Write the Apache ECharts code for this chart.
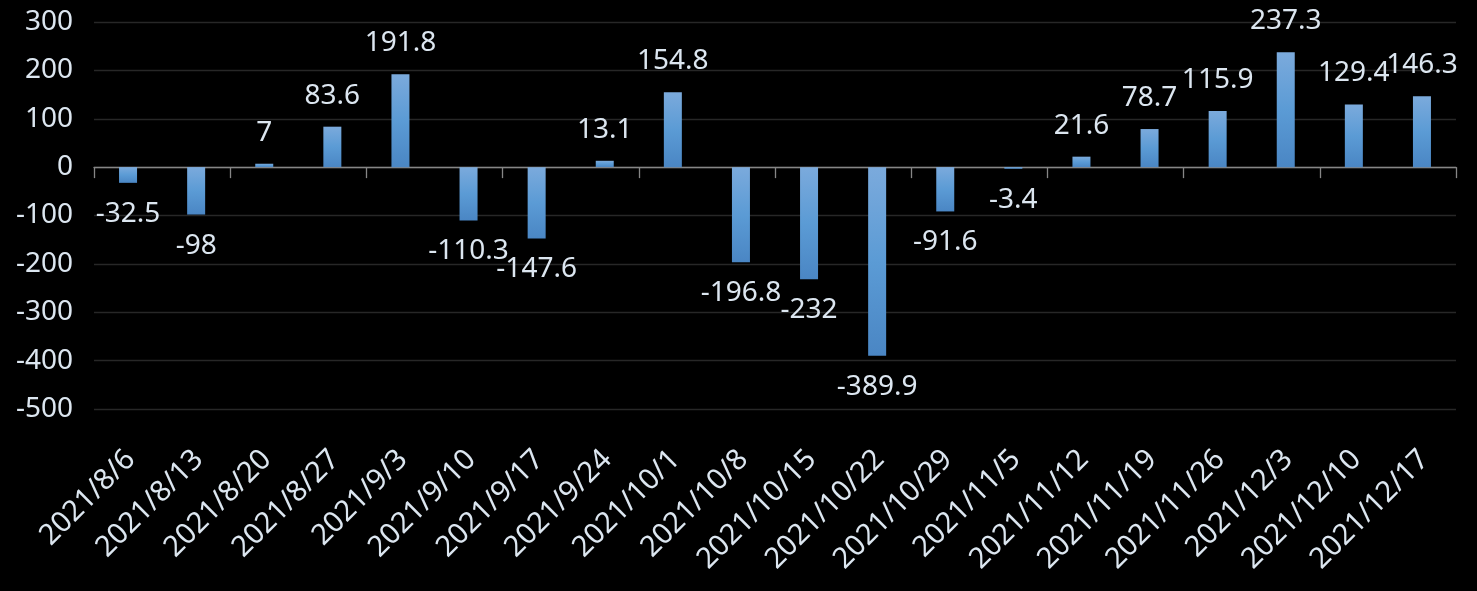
<!DOCTYPE html>
<html>
<head>
<meta charset="utf-8">
<script src="https://cdn.jsdelivr.net/npm/echarts@6/dist/echarts.min.js"></script>
<style>
html,body{margin:0;padding:0;background:#000;}
#c{width:1477px;height:591px;}
</style>
</head>
<body>
<div id="c"></div>
<script>
const categories = ['2021/8/6','2021/8/13','2021/8/20','2021/8/27','2021/9/3','2021/9/10','2021/9/17','2021/9/24','2021/10/1','2021/10/8','2021/10/15','2021/10/22','2021/10/29','2021/11/5','2021/11/12','2021/11/19','2021/11/26','2021/12/3','2021/12/10','2021/12/17'];
const values = [-32.5,-98,7,83.6,191.8,-110.3,-147.6,13.1,154.8,-196.8,-232,-389.9,-91.6,-3.4,21.6,78.7,115.9,237.3,129.4,146.3];
const yMin = -500, yMax = 300, yStep = 100;

const FONT = 'Noto Sans';
const TXT = '#DCE6F0';

const chart = echarts.init(document.getElementById('c'), null, {renderer:'canvas'});
const barColor = new echarts.graphic.LinearGradient(0,0,0,1,[
  {offset:0,color:'#7BAADC'},
  {offset:0.5,color:'#5B9BD5'},
  {offset:1,color:'#4A86C4'}
]);
chart.setOption({
  backgroundColor:'#000',
  animation:false,
  grid:{left:94,right:21,top:22,bottom:182,containLabel:false,outerBoundsMode:'none'},
  xAxis:[{
    type:'category',data:categories,
    axisLine:{onZero:true,lineStyle:{color:'#868686',width:1.3}},
    axisTick:{show:true,length:11,lineStyle:{color:'#868686',width:1.3}},
    axisLabel:{show:false},
    splitLine:{show:false}
  },{
    type:'category',data:categories,position:'bottom',
    axisLine:{show:false,onZero:false},axisTick:{show:false},
    axisLabel:{show:true,interval:0,rotate:45,margin:28,verticalAlign:'top',
      padding:[0,11,0,0],
      color:TXT,fontFamily:FONT,fontSize:29},
    splitLine:{show:false}
  }],
  yAxis:{
    type:'value',min:yMin,max:yMax,interval:yStep,
    axisLine:{show:false},axisTick:{show:false},
    axisLabel:{color:TXT,fontFamily:FONT,fontSize:28,margin:21},
    splitLine:{lineStyle:{color:'#272727',width:1.3}}
  },
  series:[{
    type:'bar',xAxisIndex:0,barWidth:18,
    itemStyle:{color:barColor},
    label:{show:true,color:TXT,fontFamily:FONT,fontSize:28,distance:17},
    data:values.map(v=>({value:v,label:{position:v<0?'bottom':'top'}}))
  }]
});
</script>
</body>
</html>
